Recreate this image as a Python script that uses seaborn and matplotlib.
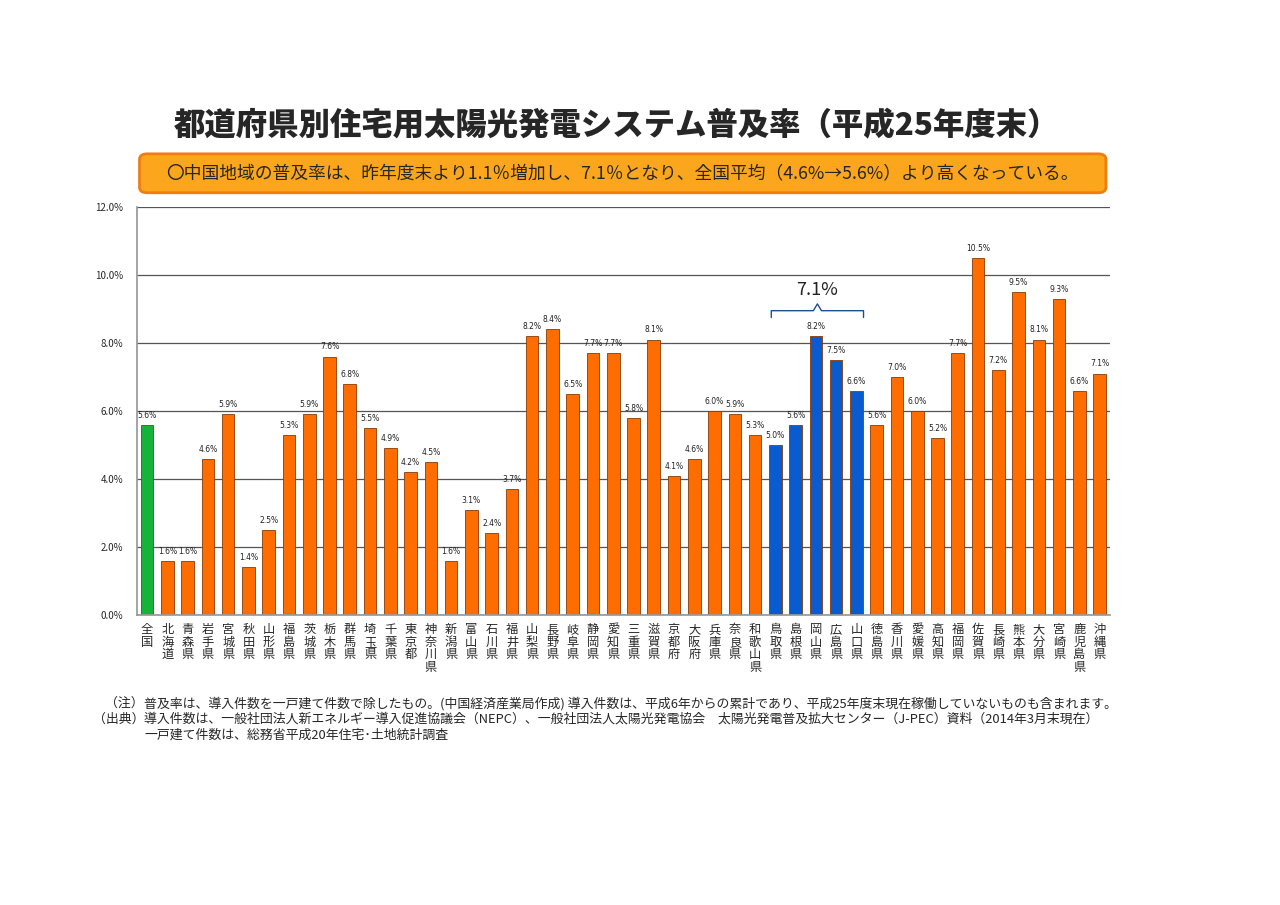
import matplotlib
matplotlib.use("Agg")
import matplotlib.pyplot as plt
from matplotlib.patches import FancyBboxPatch
from matplotlib.ticker import FuncFormatter
import seaborn as sns

# data
prefectures = ["全国", "北海道", "青森県", "岩手県", "宮城県", "秋田県", "山形県", "福島県",
               "茨城県", "栃木県", "群馬県", "埼玉県", "千葉県", "東京都", "神奈川県", "新潟県",
               "富山県", "石川県", "福井県", "山梨県", "長野県", "岐阜県", "静岡県", "愛知県",
               "三重県", "滋賀県", "京都府", "大阪府", "兵庫県", "奈良県", "和歌山県", "鳥取県",
               "島根県", "岡山県", "広島県", "山口県", "徳島県", "香川県", "愛媛県", "高知県",
               "福岡県", "佐賀県", "長崎県", "熊本県", "大分県", "宮崎県", "鹿児島県", "沖縄県"]
rates = [5.6, 1.6, 1.6, 4.6, 5.9, 1.4, 2.5, 5.3,
         5.9, 7.6, 6.8, 5.5, 4.9, 4.2, 4.5, 1.6,
         3.1, 2.4, 3.7, 8.2, 8.4, 6.5, 7.7, 7.7,
         5.8, 8.1, 4.1, 4.6, 6.0, 5.9, 5.3, 5.0,
         5.6, 8.2, 7.5, 6.6, 5.6, 7.0, 6.0, 5.2,
         7.7, 10.5, 7.2, 9.5, 8.1, 9.3, 6.6, 7.1]
chugoku = ["鳥取県", "島根県", "岡山県", "広島県", "山口県"]
chugoku_rate = 7.1
y_ticks = [0, 2, 4, 6, 8, 10, 12]

title = "都道府県別住宅用太陽光発電システム普及率（平成25年度末）"
summary = "〇中国地域の普及率は、昨年度末より1.1％増加し、7.1％となり、全国平均（4.6%→5.6%）より高くなっている。"
note_heads = ["（注）", "（出典）", ""]
note_lines = [
    "普及率は、導入件数を一戸建て件数で除したもの。(中国経済産業局作成) 導入件数は、平成6年からの累計であり、平成25年度末現在稼働していないものも含まれます。",
    "導入件数は、一般社団法人新エネルギー導入促進協議会（NEPC）、一般社団法人太陽光発電協会　太陽光発電普及拡大センター（J-PEC）資料（2014年3月末現在）",
    "一戸建て件数は、総務省平成20年住宅･土地統計調査",
]

sns.set_theme(style="white")
plt.rcParams["font.family"] = ["Noto Sans CJK JP", "DejaVu Sans"]

colors = {}
for p in prefectures:
    if p == "全国":
        colors[p] = "#15B33A"
    elif p in chugoku:
        colors[p] = "#0A5AD0"
    else:
        colors[p] = "#FF6C00"

fig = plt.figure(figsize=(12.8, 9.05), dpi=100)
ax = fig.add_axes([0.107, 0.3204, 0.760, 0.4509])

sns.barplot(x=prefectures, y=rates, hue=prefectures, palette=colors, legend=False,
            width=0.62, saturation=1, edgecolor="#8A3A00", linewidth=0.6, ax=ax)

ax.set_ylim(0, 12)
ax.set_xlim(-0.5, len(prefectures) - 0.5)
ax.set_yticks(y_ticks)
ax.yaxis.set_major_formatter(FuncFormatter(lambda v, _: f"{v:.1f}%"))
ax.tick_params(axis="y", labelsize=7, length=0, pad=10)
ax.yaxis.grid(True, color="#555555", linewidth=0.9)
ax.set_axisbelow(True)
for s in ["top", "right"]:
    ax.spines[s].set_visible(False)
ax.spines["left"].set_color("#999999")
ax.spines["bottom"].set_color("#999999")

ax.set_xticks(range(len(prefectures)))
ax.set_xticklabels(["\n".join(p) for p in prefectures], fontsize=8.8,
                   va="top", linespacing=0.95)
ax.tick_params(axis="x", length=0, pad=6)

for i, v in enumerate(rates):
    ax.text(i, v + 0.15, f"{v:.1f}%", ha="center", va="bottom", fontsize=5.5,
            color="#222222", family="DejaVu Sans")

# bracket for the Chugoku region
i0 = prefectures.index(chugoku[0]) - 0.2
i1 = prefectures.index(chugoku[-1]) + 0.35
mid = (i0 + i1) / 2
bc = "#1F4E8C"
ax.plot([i0, i0, mid - 0.2, mid, mid + 0.2, i1, i1],
        [8.75, 8.95, 8.95, 9.15, 8.95, 8.95, 8.75], color=bc, lw=1.0)
ax.text(mid, 9.3, f"{chugoku_rate}%", ha="center", va="bottom", fontsize=13, color="#222222")

fig.text(0.482, 0.861, title, ha="center", va="center", fontsize=22.6, fontweight="heavy")

box = FancyBboxPatch((0.109, 0.787), 0.755, 0.043, boxstyle="round,pad=0,rounding_size=0.006",
                     transform=fig.transFigure, facecolor="#FBA61C", edgecolor="#F07D10",
                     linewidth=2)
fig.patches.append(box)
fig.text(0.486, 0.8085, summary, ha="center", va="center", fontsize=12.8)

for k, (head, line) in enumerate(zip(note_heads, note_lines)):
    y = 0.223 - k * 0.0178
    if head:
        fig.text(0.1125, y, head, ha="right", va="center", fontsize=9.3)
    fig.text(0.1125, y, line, ha="left", va="center", fontsize=9.3)

fig.savefig("out.png", dpi=100, facecolor="white")
